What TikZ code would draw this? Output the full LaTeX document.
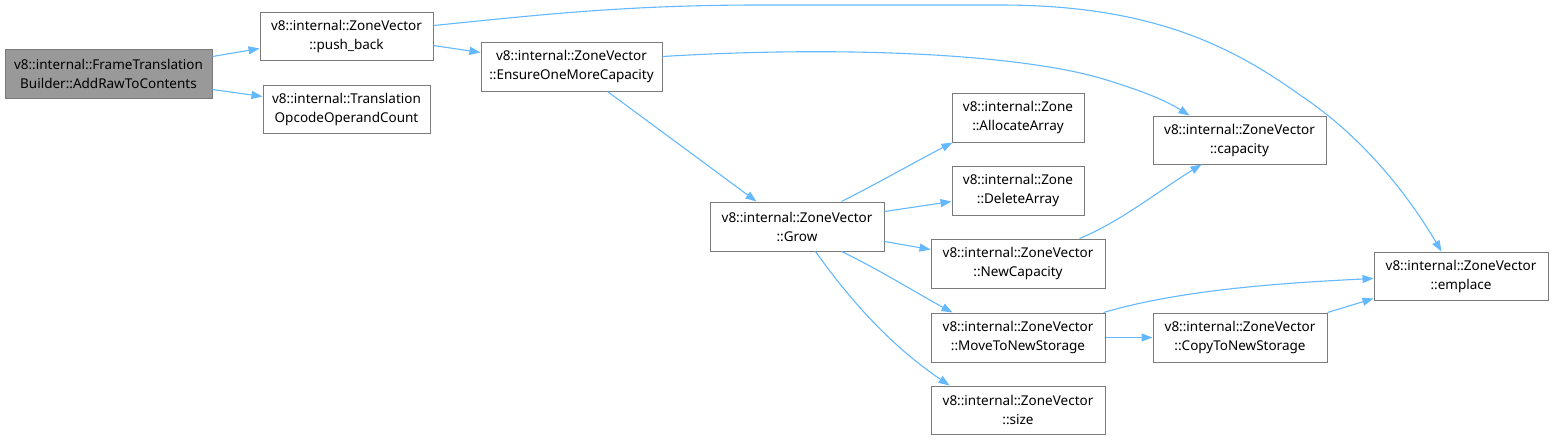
\documentclass[tikz,border=0pt]{standalone}
\usepackage{fontspec}
\setmainfont{Noto Sans}
\usetikzlibrary{arrows.meta,calc}
\definecolor{edgec}{HTML}{63B8FF}
\definecolor{boxc}{HTML}{7A7A7A}
\definecolor{rootc}{HTML}{999999}
\begin{document}
\begin{tikzpicture}[x=1pt,y=-1pt,
  fnbox/.style={draw=boxc,line width=1pt,fill=white,inner sep=0pt,align=center,
    font=\fontsize{13.5}{19}\selectfont,text=black},
  rootbox/.style={fnbox,fill=rootc},
  call/.style={draw=edgec,line width=1.1pt,-{Triangle[length=11pt,width=8pt]}}]
\useasboundingbox (0,0) rectangle (1553,440);
\node[rootbox,minimum width=207pt,minimum height=49pt] (raw) at (108.5,73.5) {v8::internal::FrameTranslation\\Builder::AddRawToContents};
\node[fnbox,minimum width=173pt,minimum height=48pt] (push) at (346.5,36) {v8::internal::ZoneVector\\::push\_back};
\node[fnbox,minimum width=167pt,minimum height=48pt] (trans) at (346.5,109) {v8::internal::Translation\\OpcodeOperandCount};
\node[fnbox,minimum width=181pt,minimum height=49pt] (ens) at (571.5,66.5) {v8::internal::ZoneVector\\::EnsureOneMoreCapacity};
\node[fnbox,minimum width=174pt,minimum height=49pt] (grow) at (797,226.5) {v8::internal::ZoneVector\\::Grow};
\node[fnbox,minimum width=132pt,minimum height=49pt] (alloc) at (1018,117.5) {v8::internal::Zone\\::AllocateArray};
\node[fnbox,minimum width=132pt,minimum height=49pt] (del) at (1018,190.5) {v8::internal::Zone\\::DeleteArray};
\node[fnbox,minimum width=173pt,minimum height=48pt] (cap) at (1239.5,140) {v8::internal::ZoneVector\\::capacity};
\node[fnbox,minimum width=174pt,minimum height=49pt] (newcap) at (1018,263.5) {v8::internal::ZoneVector\\::NewCapacity};
\node[fnbox,minimum width=174pt,minimum height=48pt] (emp) at (1461,276) {v8::internal::ZoneVector\\::emplace};
\node[fnbox,minimum width=174pt,minimum height=49pt] (move) at (1018,337.5) {v8::internal::ZoneVector\\::MoveToNewStorage};
\node[fnbox,minimum width=174pt,minimum height=49pt] (copy) at (1240,337.5) {v8::internal::ZoneVector\\::CopyToNewStorage};
\node[fnbox,minimum width=174pt,minimum height=48pt] (size) at (1018,410) {v8::internal::ZoneVector\\::size};

\draw[call] ($(raw.north east)+(0,8)$) -- ($(push.north west)+(0,37)$);
\draw[call] ($(raw.south east)+(0,-9)$) -- ($(trans.north west)+(0,12)$);
\draw[call] ($(push.north east)+(0,34)$) -- ($(ens.north west)+(0,11)$);
\draw[call] ($(push.north east)+(0,14)$) .. controls (530,16) and (620,5) .. (760,5)
  -- (1000,5) .. controls (1150,5) and (1230,45) .. (1300,95)
  .. controls (1360,135) and (1405,190) .. ($(emp.north west)+(68,0)$);
\draw[call] ($(ens.north east)+(0,15)$) .. controls (850,45) and (1020,55) .. (1100,78)
  .. controls (1140,90) and (1165,100) .. ($(cap.north west)+(37,0)$);
\draw[call] ($(ens.south west)+(127,0)$) -- ($(grow.north west)+(47,0)$);
\draw[call] ($(grow.north west)+(132,0)$) .. controls (880,182) and (915,162) .. ($(alloc.south west)+(1,0)$);
\draw[call] ($(grow.north east)+(0,10)$) -- ($(del.north west)+(0,36)$);
\draw[call] ($(grow.south east)+(0,-10)$) -- ($(newcap.north west)+(0,11)$);
\draw[call] ($(grow.south west)+(132,0)$) .. controls (880,270) and (920,295) .. ($(move.north west)+(22,0)$);
\draw[call] ($(grow.south west)+(106,0)$) .. controls (850,300) and (890,345) .. ($(size.north west)+(19,0)$);
\draw[call] ($(newcap.north west)+(149,0)$) .. controls (1120,222) and (1160,190) .. ($(cap.south west)+(49,0)$);
\draw[call] ($(move.north east)+(-2,0)$) .. controls (1180,290) and (1280,283) .. ($(emp.north west)+(0,27)$);
\draw[call] (move.east) -- (copy.west);
\draw[call] (copy.north east) -- ($(emp.south west)+(0,-2)$);
\end{tikzpicture}
\end{document}
